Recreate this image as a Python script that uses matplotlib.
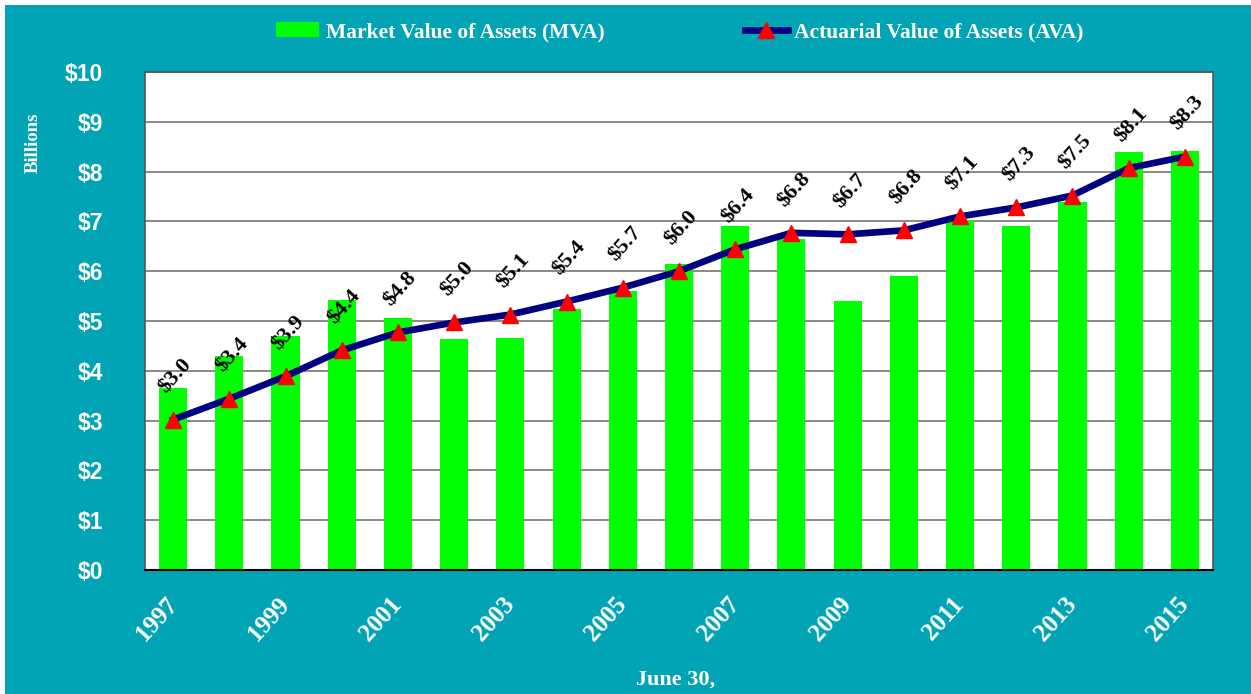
import matplotlib
matplotlib.use("Agg")
import matplotlib.pyplot as plt
from matplotlib.patches import Rectangle

# ---------------- DATA ----------------
YEARS = list(range(1997, 2016))
MVA = [3.65, 4.30, 4.70, 5.42, 5.06, 4.64, 4.66, 5.24, 5.60, 6.14,
       6.91, 6.65, 5.40, 5.90, 7.03, 6.91, 7.39, 8.39, 8.41]
AVA = [3.02, 3.44, 3.89, 4.41, 4.77, 4.97, 5.13, 5.39, 5.67, 6.00,
       6.44, 6.77, 6.74, 6.82, 7.10, 7.28, 7.52, 8.07, 8.30]
Y_TICKS = list(range(0, 11))

TEAL = "#00A4B4"
GREEN = "#00FF00"
NAVY = "#000080"
SERIF = "Liberation Serif"
SANS = "Liberation Sans"

fig = plt.figure(figsize=(12.51, 6.94), dpi=100, facecolor="white")
# teal panel with a thin white margin at top/left
fig.patches.append(Rectangle((5 / 1251, 0), 1, 1 - 5 / 694, transform=fig.transFigure,
                             facecolor=TEAL, edgecolor="none", zorder=-10))

ax = fig.add_axes([145 / 1251, 1 - 570 / 694, (1213 - 145) / 1251, (570 - 72) / 694])
ax.set_facecolor("white")

x = list(range(len(YEARS)))
bars = ax.bar(x, MVA, width=0.5, color=GREEN, zorder=2, label="Market Value of Assets (MVA)")
line, = ax.plot(x, AVA, color=NAVY, lw=4.8, marker="^", ms=11, mfc="red", mec="red",
                zorder=3, label="Actuarial Value of Assets (AVA)")

for xi, v in zip(x, AVA):
    ax.annotate(f"${v:.1f}", (xi, v), xytext=(2, 31), textcoords="offset points",
                rotation=48, ha="center", va="center", fontsize=16,
                fontweight="bold", family=SERIF, color="black", zorder=4)

ax.set_xlim(-0.5, 18.5)
ax.set_ylim(0, 10)
ax.set_yticks(Y_TICKS)
ax.set_yticklabels([f"${v}" for v in Y_TICKS], fontsize=16.5, fontweight="bold",
                   family=SANS, color="white")
ax.set_xticks(x[::2])
ax.set_xticklabels([str(y) for y in YEARS[::2]], rotation=48, ha="right", va="center",
                   rotation_mode="anchor", fontsize=18, fontweight="bold",
                   family=SERIF, color="white")
ax.tick_params(axis="y", length=0, pad=30)
ax.tick_params(axis="x", length=0, pad=22)

ax.grid(axis="y", color="#808080", lw=1.3, zorder=1)
ax.set_axisbelow(True)
for side in ["top", "right", "left"]:
    ax.spines[side].set_color("#555555")
    ax.spines[side].set_linewidth(1.2)
ax.spines["bottom"].set_color("black")
ax.spines["bottom"].set_linewidth(1.5)

fig.text(33 / 1251, 1 - 143 / 694, "Billions", rotation=90, ha="center", va="center",
         fontsize=13.5, fontweight="bold", family=SERIF, color="white")
fig.text(676 / 1251, 1 - 680 / 694, "June 30,", ha="center", va="center",
         fontsize=16, fontweight="bold", family=SERIF, color="white")

leg = fig.legend([bars, line], [bars.get_label(), line.get_label()],
                 loc="center", bbox_to_anchor=(680 / 1251, 1 - 32 / 694), ncol=2,
                 frameon=False, columnspacing=6.5, handlelength=2.0, handletextpad=0.3,
                 prop={"family": SERIF, "weight": "bold", "size": 15.5})
for t in leg.get_texts():
    t.set_color("white")

fig.savefig("out.png", dpi=100, facecolor=fig.get_facecolor())
